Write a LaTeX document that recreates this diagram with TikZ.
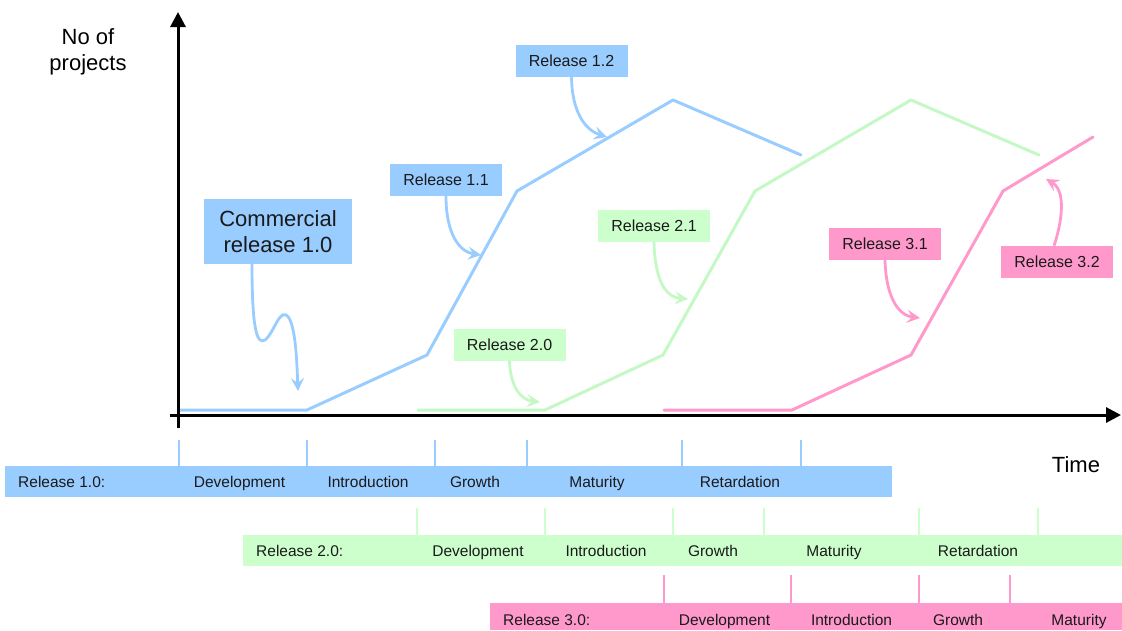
\documentclass[tikz,border=0pt]{standalone}
\usepackage{fontspec}
\setmainfont{Liberation Sans}
\usetikzlibrary{arrows.meta}
\definecolor{relblue}{HTML}{99CCFF}
\definecolor{relgreen}{HTML}{CCFFCC}
\definecolor{linegreen}{HTML}{C4F8C4}
\definecolor{relpink}{HTML}{FF99CC}
\definecolor{ink}{HTML}{1A1A1A}
\tikzset{
  callout/.style={inner sep=0pt, minimum width=112pt, minimum height=32pt,
    font=\fontsize{16}{19}\selectfont, text=ink},
  phase/.style={inner sep=0pt, anchor=base, font=\fontsize{15.5}{18}\selectfont, text=ink},
  bigtext/.style={inner sep=0pt, font=\fontsize{22}{26}\selectfont, text=black},
  bar/.style={inner sep=0pt, anchor=north west, minimum height=31pt},
  curve/.style={line width=3pt, line join=round, line cap=round},
  pointer/.style={line width=2.8pt, -{Stealth[length=13pt,width=13pt,inset=5pt]}},
  tick/.style={line width=2pt},
  axis/.style={line width=3pt, -{Triangle[length=15pt,width=15pt]}}
}
\begin{document}
\begin{tikzpicture}[x=1pt,y=-1pt]
\useasboundingbox (0,0) rectangle (1122,630);

% life-cycle curves of the three releases
\draw[curve, relblue]   (180,410) -- (307,410) -- (427,355) -- (517,191) -- (673,100) -- (801,155);
\draw[curve, linegreen] (418,410) -- (545,410) -- (663,355) -- (755,191) -- (911,100) -- (1039,155);
\draw[curve, relpink]   (664,410) -- (792,410) -- (911,355) -- (1003,191) -- (1093,137);

% axes
\coordinate (yfoot) at (178,428);
\coordinate (ytop) at (178,12);
\coordinate (xfoot) at (170,415);
\coordinate (xend) at (1121,415);
\draw[axis] (yfoot) -- (ytop);
\draw[axis] (xfoot) -- (xend);
\node[bigtext, align=center] (ylabel) at (88,52) {No of\\projects};
\node[bigtext, anchor=base] (xlabel) at (1076,472) {Time};

% release callouts
\node[fill=relblue, inner sep=0pt, minimum width=148pt, minimum height=65pt,
      align=center, font=\fontsize{22}{26}\selectfont, text=ink] (c10) at (278,231.5)
      {Commercial\\release 1.0};
\node[callout, fill=relblue]  (r11) at (446,180)   {Release 1.1};
\node[callout, fill=relblue]  (r12) at (571.5,61)  {Release 1.2};
\node[callout, fill=relgreen] (r20) at (509.5,344.5) {Release 2.0};
\node[callout, fill=relgreen] (r21) at (654,225.5) {Release 2.1};
\node[callout, fill=relpink]  (r31) at (885,244)   {Release 3.1};
\node[callout, fill=relpink]  (r32) at (1057,262)  {Release 3.2};

% points on the curves where the callouts land
\coordinate (t10) at (298,391);
\coordinate (t11) at (481,255);
\coordinate (t12) at (607,137);
\coordinate (t20) at (540,402);
\coordinate (t21) at (688,299);
\coordinate (t31) at (920,318);
\coordinate (t32) at (1046,179);

\draw[pointer, relblue] ([xshift=-26pt]c10.south)
   .. controls (252,330) and (257,345) .. (265,340)
   .. controls (275,332) and (280,305) .. (289,318)
   .. controls (296,330) and (297,365) .. (t10);
\draw[pointer, relblue]   (r11.south) .. controls (446,235) and (460,252) .. (t11);
\draw[pointer, relblue]   (r12.south) .. controls (572,112) and (585,130) .. (t12);
\draw[pointer, linegreen] (r20.south) .. controls (510,385) and (520,400) .. (t20);
\draw[pointer, linegreen] (r21.south) .. controls (655,280) and (665,297) .. (t21);
\draw[pointer, relpink]   (r31.south) .. controls (886,295) and (897,315) .. (t31);
\draw[pointer, relpink]   ([xshift=-3pt]r32.north) .. controls (1060,228) and (1068,192) .. (t32);

% phase bars
\node[bar, fill=relblue,  minimum width=887pt] (bar1) at (5,466) {};
\node[bar, fill=relgreen, minimum width=879pt] (bar2) at (243,535) {};
\node[bar, fill=relpink,  minimum width=632pt, minimum height=27pt] (bar3) at (490,603) {};

% phase boundaries
\foreach \x in {179,307,435,527,682,801} \draw[tick, relblue] (\x,440) -- (\x,466);
\foreach \x in {417,545,673,764,919,1038} \draw[tick, relgreen] (\x,508) -- (\x,535);
\foreach \x in {664,791,919,1010} \draw[tick, relpink] (\x,575) -- (\x,603);

% phase names
\node[phase, anchor=base west] (b1r) at (18,487) {Release 1.0:};
\node[phase] (b1d) at (239.5,487) {Development};
\node[phase] (b1i) at (368,487) {Introduction};
\node[phase] (b1g) at (475,487) {Growth};
\node[phase] (b1m) at (597,487) {Maturity};
\node[phase] (b1t) at (740,487) {Retardation};

\node[phase, anchor=base west] (b2r) at (256,556) {Release 2.0:};
\node[phase] (b2d) at (478,556) {Development};
\node[phase] (b2i) at (606,556) {Introduction};
\node[phase] (b2g) at (713,556) {Growth};
\node[phase] (b2m) at (834,556) {Maturity};
\node[phase] (b2t) at (978,556) {Retardation};

\node[phase, anchor=base west] (b3r) at (503,625) {Release 3.0:};
\node[phase] (b3d) at (724.5,625) {Development};
\node[phase] (b3i) at (851.5,625) {Introduction};
\node[phase] (b3g) at (958,625) {Growth};
\node[phase] (b3m) at (1079,625) {Maturity};
\end{tikzpicture}
\end{document}
